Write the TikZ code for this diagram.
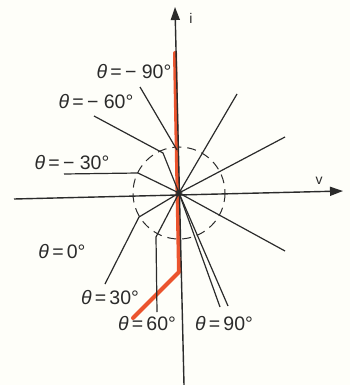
\documentclass[tikz,border=0pt]{standalone}
\usepackage{fontspec}
\setmainfont{Liberation Sans}
\usetikzlibrary{arrows.meta}
\definecolor{ink}{rgb}{0.17,0.17,0.17}
\definecolor{trace}{rgb}{0.92,0.33,0.18}
\definecolor{paper}{rgb}{0.995,0.995,0.975}
\tikzset{
  ray/.style={draw=ink, line width=1.2pt},
  axis/.style={draw=ink, line width=1.4pt, -{Triangle[length=13pt,width=9pt]}},
  lbl/.style={font=\fontsize{19.5}{21}\selectfont, inner sep=0pt, text=ink},
  axlbl/.style={font=\fontsize{14}{16}\selectfont, inner sep=0pt, text=ink},
  redpath/.style={draw=trace, line width=4pt, line join=round, line cap=round},
  circ/.style={draw=ink, line width=1pt, dash pattern=on 9pt off 6pt}
}
\newcommand{\thl}[1]{{\itshape θ}\,=\,#1}
\begin{document}
\begin{tikzpicture}[x=1pt,y=-1pt]
\useasboundingbox (0,0) rectangle (350,385);
\fill[paper] (0,0) rectangle (350,385);

% key points
\coordinate (O) at (179,193);
\coordinate (hl) at (14,199);
\coordinate (hr) at (343,191);
\coordinate (vb) at (184,385);
\coordinate (vt) at (175,7);

% dashed circle
\draw[circ] (O) circle[radius=46];

% red trace
\coordinate (r1) at (175,53);
\coordinate (r2) at (179,272);
\coordinate (r3) at (133,318);
\draw[redpath] (r1) -- (r2) -- (r3);

% axes
\draw[axis] (hl) -- (hr);
\draw[axis] (vb) -- (vt);
\node[axlbl] (v) at (319,181) {v};
\node[axlbl] (i) at (191,18) {i};

% rays upper right / right
\coordinate (u1) at (237,94);
\coordinate (u2) at (285,137);
\coordinate (u3) at (285,251);
\draw[ray] (O) -- (u1);
\draw[ray] (O) -- (u2);
\draw[ray] (O) -- (u3);

% theta = -90
\coordinate (a90) at (140,87);
\coordinate (b90) at (177,150);
\draw[ray] (a90) -- (b90);
% theta = -60
\coordinate (a60) at (94,116);
\coordinate (b60) at (163,153);
\draw[ray] (a60) -- (b60) -- (O);
% theta = -30
\coordinate (a30) at (64,174);
\coordinate (b30) at (138,173);
\draw[ray] (a30) -- (b30) -- (O);
% theta = 0 / 30 branch
\coordinate (c0) at (139,217);
\coordinate (d0) at (105,284);
\draw[ray] (O) -- (c0) -- (d0);
% theta = 60 branch
\coordinate (c60) at (156,237);
\coordinate (d60) at (157,312);
\draw[ray] (O) -- (c60) -- (d60);
% theta = 90 rays
\coordinate (e1) at (220,307);
\coordinate (e2) at (228,306);
\draw[ray] (O) -- (e1);
\draw[ray] (O) -- (e2);

% dark centre
\fill[ink, opacity=0.8] (O) circle[radius=3.5];

% labels
\node[lbl] (l90) at (134,72) {\thl{− 90°}};
\node[lbl] (l60) at (96,102) {\thl{− 60°}};
\node[lbl] (l30) at (72,163) {\thl{− 30°}};
\node[lbl] (p0) at (62,252) {\thl{0°}};
\node[lbl] (p30) at (110,298) {\thl{30°}};
\node[lbl] (p60) at (147,324) {\thl{60°}};
\node[lbl] (p90) at (224,324) {\thl{90°}};
\end{tikzpicture}
\end{document}
